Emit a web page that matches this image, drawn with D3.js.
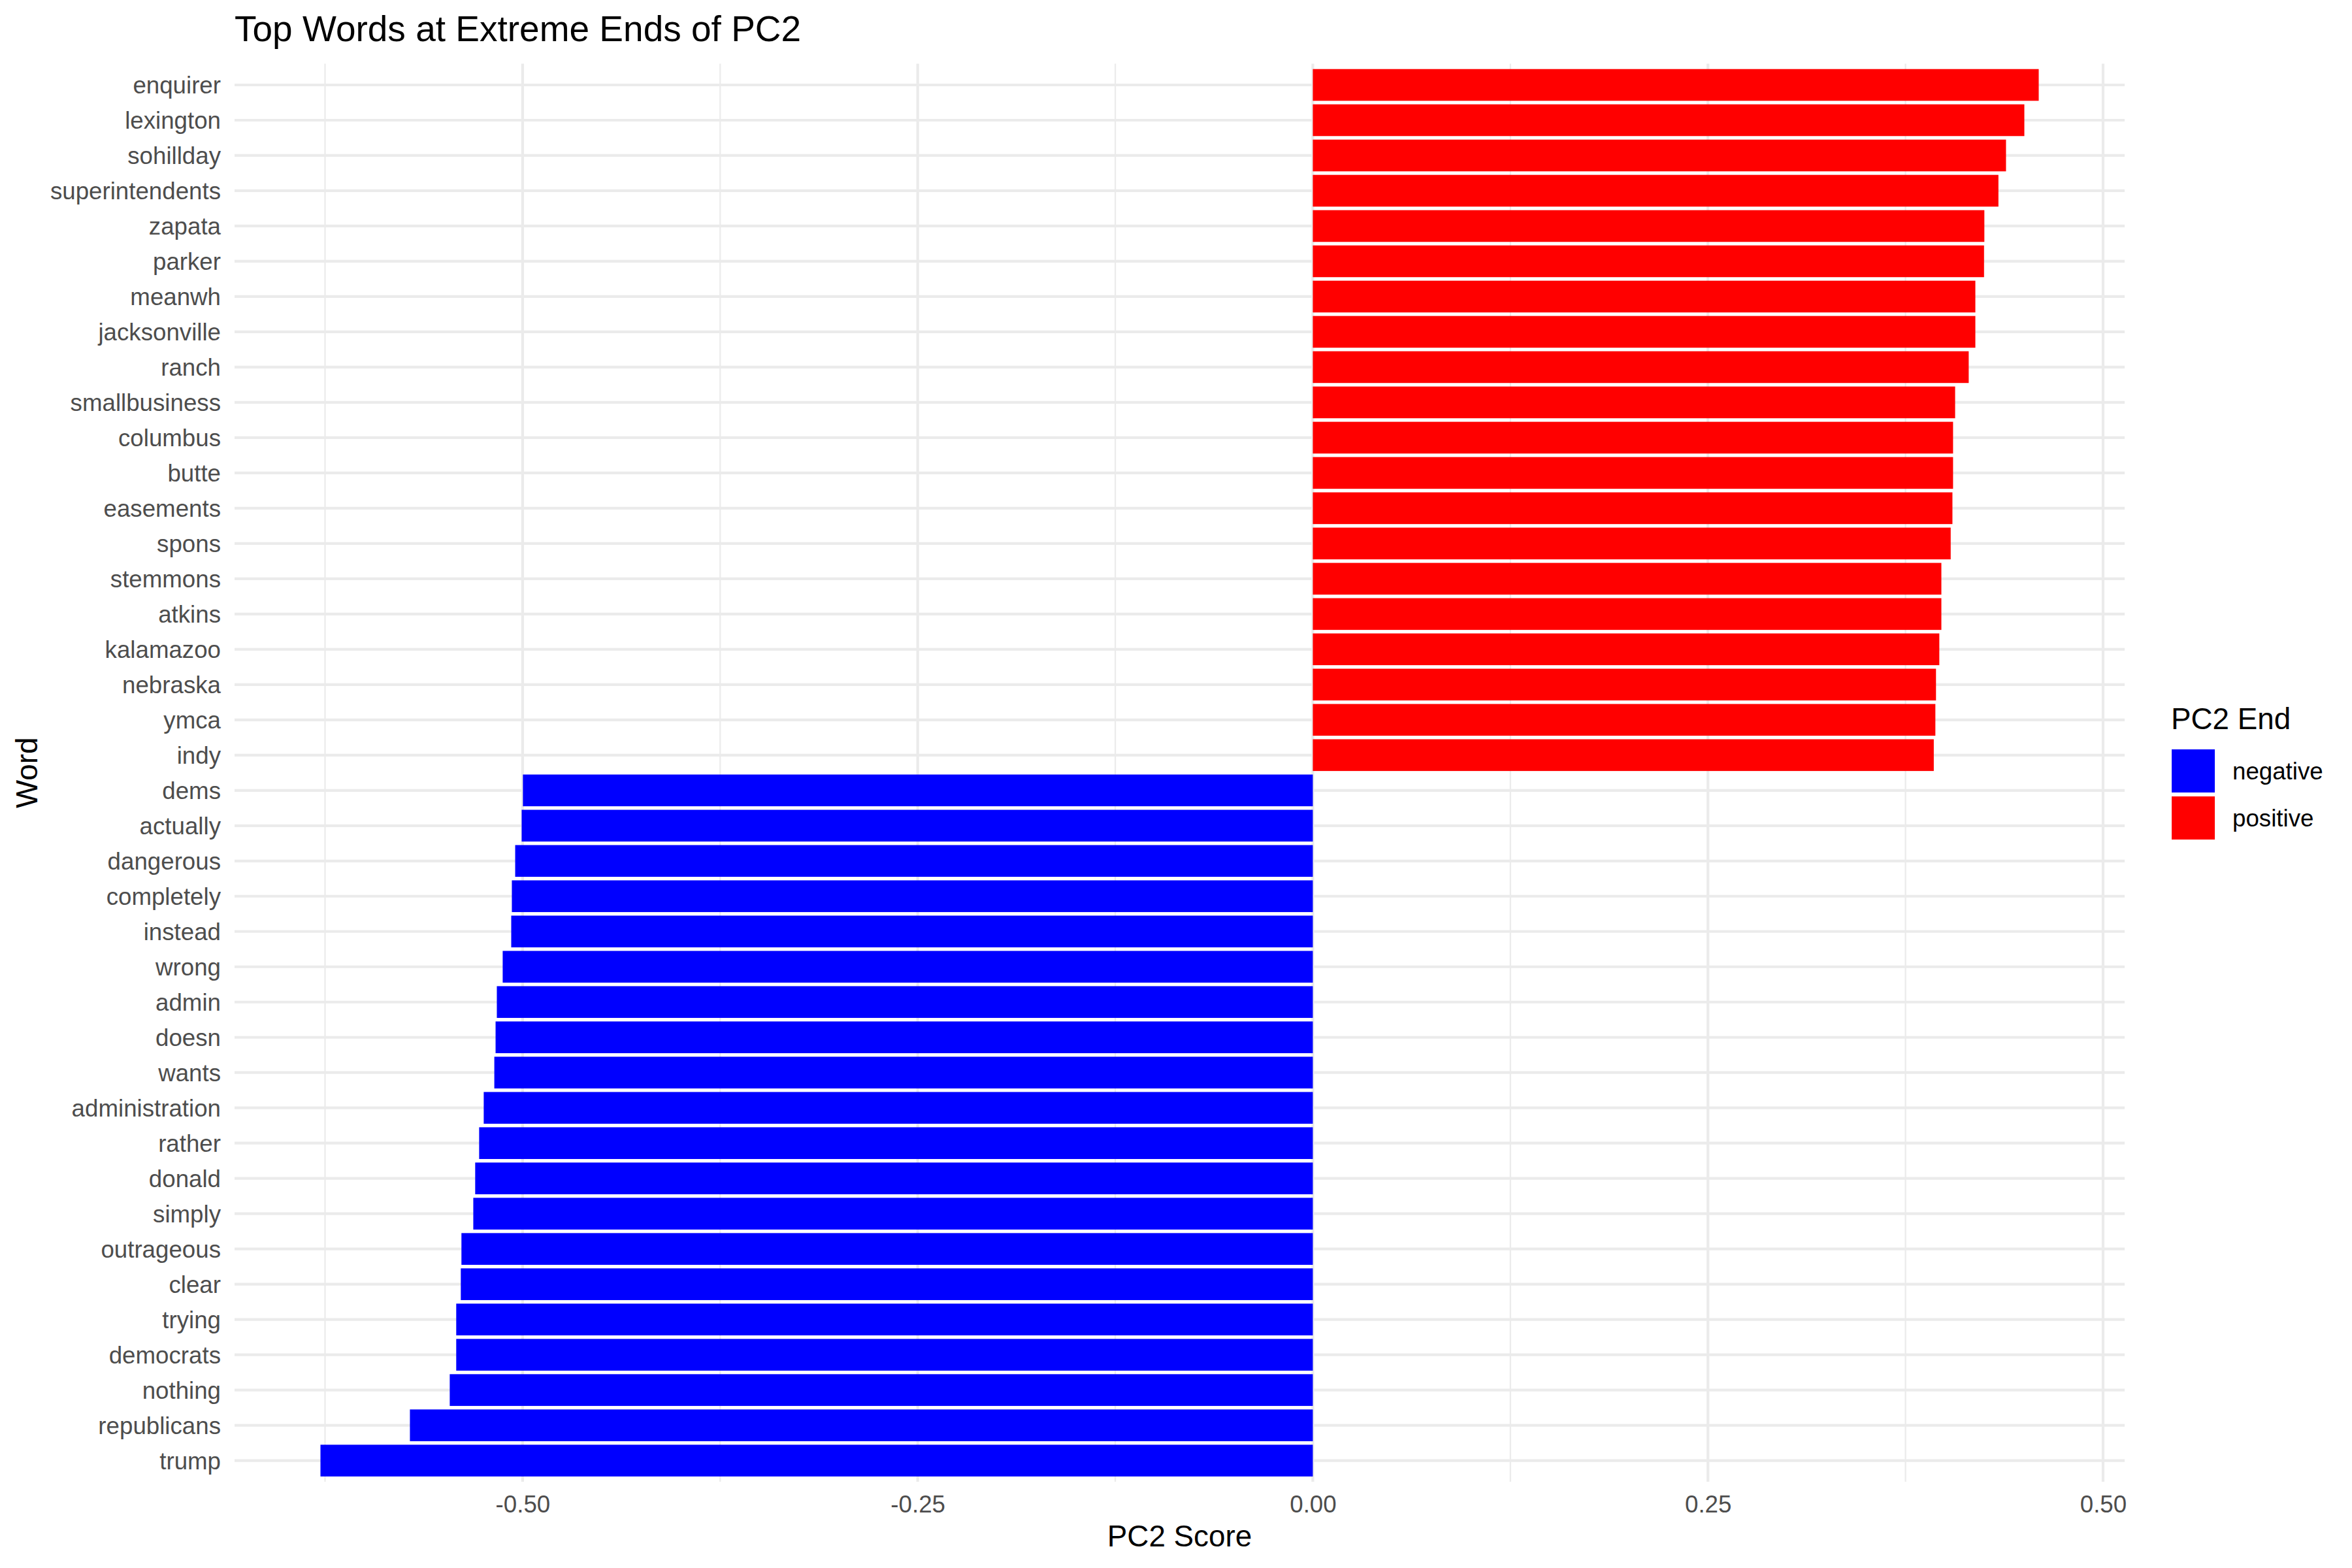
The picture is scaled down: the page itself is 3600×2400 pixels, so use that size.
<!DOCTYPE html>
<html>
<head>
<meta charset="utf-8">
<script src="https://cdn.jsdelivr.net/npm/d3@7"></script>
<style>
  html, body { margin: 0; padding: 0; background: #ffffff; }
  svg { display: block; }
</style>
</head>
<body>
<script>
// ---- Data (top to bottom as drawn) ----
const words = [
  "enquirer","lexington","sohillday","superintendents","zapata","parker","meanwh",
  "jacksonville","ranch","smallbusiness","columbus","butte","easements","spons",
  "stemmons","atkins","kalamazoo","nebraska","ymca","indy",
  "dems","actually","dangerous","completely","instead","wrong","admin","doesn",
  "wants","administration","rather","donald","simply","outrageous","clear",
  "trying","democrats","nothing","republicans","trump"
];
const scores = [
  0.4593, 0.4502, 0.4386, 0.4338, 0.4249, 0.4247, 0.4192,
  0.4192, 0.4150, 0.4064, 0.4051, 0.4051, 0.4047, 0.4036,
  0.3977, 0.3977, 0.3964, 0.3943, 0.3939, 0.3929,
  -0.4998, -0.5006, -0.5047, -0.5068, -0.5072, -0.5126, -0.5163, -0.5171,
  -0.5179, -0.5246, -0.5275, -0.5300, -0.5312, -0.5387, -0.5391,
  -0.5420, -0.5420, -0.5461, -0.5713, -0.6279
];
const endGroups = ["negative", "positive"];
const endColors = ["#0000FF", "#FF0000"];
const xTicks = [-0.50, -0.25, 0.00, 0.25, 0.50];
const xTickLabels = ["-0.50", "-0.25", "0.00", "0.25", "0.50"];
const xMinorTicks = [-0.625, -0.375, -0.125, 0.125, 0.375];
const titleText = "Top Words at Extreme Ends of PC2";
const xTitle = "PC2 Score";
const yTitle = "Word";
const legendTitle = "PC2 End";

// ---- Layout ----
const W = 3600, H = 2400;
const panel = { left: 359, right: 3252, top: 97.6, bottom: 2268 };
const FONT = "'Liberation Sans', Arial, Helvetica, sans-serif";

const data = words.map((w, i) => ({ word: w, value: scores[i], end: scores[i] < 0 ? "negative" : "positive" }));

const svg = d3.select("body").append("svg")
  .attr("width", W).attr("height", H)
  .attr("viewBox", `0 0 ${W} ${H}`);
svg.append("rect").attr("width", W).attr("height", H).attr("fill", "#ffffff");

// x scale with ggplot-style 5% expansion
const ext = d3.extent(scores.concat([0]));
const span = ext[1] - ext[0];
const x = d3.scaleLinear()
  .domain([ext[0] - span * 0.05, ext[1] + span * 0.05])
  .range([panel.left, panel.right]);

const y = d3.scaleBand()
  .domain(words)
  .range([panel.top, panel.bottom])
  .paddingInner(0.1)
  .paddingOuter(0.15);

const color = d3.scaleOrdinal().domain(endGroups).range(endColors);

const grid = svg.append("g");
grid.selectAll("line.minor").data(xMinorTicks).join("line")
  .attr("x1", d => x(d)).attr("x2", d => x(d))
  .attr("y1", panel.top).attr("y2", panel.bottom)
  .attr("stroke", "#EBEBEB").attr("stroke-width", 2.2);
grid.selectAll("line.majx").data(xTicks).join("line")
  .attr("x1", d => x(d)).attr("x2", d => x(d))
  .attr("y1", panel.top).attr("y2", panel.bottom)
  .attr("stroke", "#EBEBEB").attr("stroke-width", 4.2);
grid.selectAll("line.majy").data(words).join("line")
  .attr("x1", panel.left).attr("x2", panel.right)
  .attr("y1", d => y(d) + y.bandwidth() / 2).attr("y2", d => y(d) + y.bandwidth() / 2)
  .attr("stroke", "#EBEBEB").attr("stroke-width", 4.2);

// bars
svg.append("g").selectAll("rect").data(data).join("rect")
  .attr("x", d => x(Math.min(0, d.value)))
  .attr("width", d => Math.abs(x(d.value) - x(0)))
  .attr("y", d => y(d.word))
  .attr("height", y.bandwidth())
  .attr("fill", d => color(d.end));

// y axis labels
const yAxis = d3.axisLeft(y).tickSize(0).tickPadding(0);
const yg = svg.append("g").attr("transform", `translate(338,0)`).call(yAxis);
yg.select(".domain").remove();
yg.selectAll("text")
  .attr("x", 0).attr("dy", "0.355em")
  .attr("font-family", FONT).attr("font-size", 36.7)
  .attr("fill", "#4D4D4D").attr("text-anchor", "end");

// x axis labels
const xAxis = d3.axisBottom(x).tickValues(xTicks)
  .tickFormat((d, i) => xTickLabels[i]).tickSize(0).tickPadding(0);
const xg = svg.append("g").attr("transform", `translate(0,2315)`).call(xAxis);
xg.select(".domain").remove();
xg.selectAll("text")
  .attr("y", 0).attr("dy", 0)
  .attr("font-family", FONT).attr("font-size", 36.7)
  .attr("fill", "#4D4D4D").attr("text-anchor", "middle");

// titles
svg.append("text").attr("x", panel.left).attr("y", 63)
  .attr("font-family", FONT).attr("font-size", 55).attr("fill", "#000")
  .text(titleText);
svg.append("text").attr("x", (panel.left + panel.right) / 2).attr("y", 2367)
  .attr("text-anchor", "middle")
  .attr("font-family", FONT).attr("font-size", 45.8).attr("fill", "#000")
  .text(xTitle);
svg.append("text")
  .attr("transform", `translate(57,${(panel.top + panel.bottom) / 2}) rotate(-90)`)
  .attr("text-anchor", "middle")
  .attr("font-family", FONT).attr("font-size", 45.8).attr("fill", "#000")
  .text(yTitle);

// legend
const lg = svg.append("g");
lg.append("text").attr("x", 3323).attr("y", 1116)
  .attr("font-family", FONT).attr("font-size", 45.8).attr("fill", "#000")
  .text(legendTitle);
const items = lg.selectAll("g.item").data(endGroups).join("g")
  .attr("transform", (d, i) => `translate(3324,${1147 + i * 72})`);
items.append("rect").attr("width", 66).attr("height", 66).attr("fill", d => color(d));
items.append("text").attr("x", 93).attr("y", 33).attr("dy", "0.355em")
  .attr("font-family", FONT).attr("font-size", 36.7).attr("fill", "#000")
  .text(d => d);
</script>
</body>
</html>
